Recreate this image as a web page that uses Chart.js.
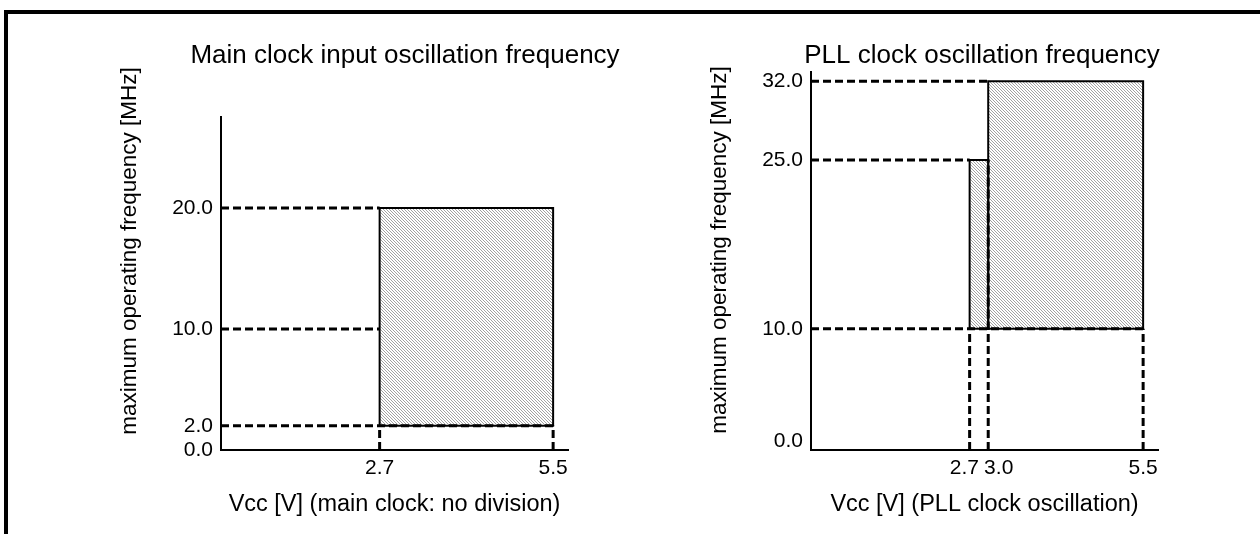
<!DOCTYPE html>
<html>
<head>
<meta charset="utf-8">
<script src="https://cdn.jsdelivr.net/npm/chart.js@4.4.1/dist/chart.umd.min.js"></script>
<style>
  html, body { margin: 0; padding: 0; background: #fff; overflow: hidden; }
  #frame { position: absolute; left: 4px; top: 10px; width: 1300px; height: 600px;
           border-top: 4px solid #000; border-left: 4px solid #000; }
  canvas { position: absolute; top: 0; }
</style>
</head>
<body>
<div id="frame"></div>
<canvas id="mainChart" width="810" height="534" style="left:0"></canvas>
<canvas id="pllChart" width="556" height="534" style="left:704px"></canvas>
<script>
// Main clock input oscillation frequency (no division)
const mainVccTicks = [2.7, 5.5];
const mainFreqTicks = [0, 2, 10, 20];
const mainRegionVcc = [[2.7, 5.5]];
const mainRegionFreq = [[2, 20]];
const mainGuideFreq = [20, 10, 2];
const mainGuideEnd = [2.7, 2.7, 5.5];
const mainDropVcc = [2.7, 5.5];
const mainDropTop = [2, 2];

// PLL clock oscillation frequency
const pllVccTicks = [2.7, 3.0, 5.5];
const pllFreqTicks = [0, 10, 25, 32];
const pllRegionVcc = [[2.7, 3.0], [3.0, 5.5]];
const pllRegionFreq = [[10, 25], [10, 32]];
const pllGuideFreq = [32, 25, 10];
const pllGuideEnd = [3.0, 2.7, 5.5];
const pllDropVcc = [2.7, 3.0, 5.5];
const pllDropTop = [10, 25, 10];

Chart.defaults.font.family = '"Liberation Sans", Arial, sans-serif';
Chart.defaults.color = '#000';

// fine diagonal hatch used for the operating areas
const tile = document.createElement('canvas');
tile.width = 3; tile.height = 3;
const tctx = tile.getContext('2d');
tctx.fillStyle = '#fff';
tctx.fillRect(0, 0, 3, 3);
tctx.fillStyle = '#a2a2a2';
for (let i = 0; i < 3; i++) tctx.fillRect(i, i, 1, 1);
const hatch = tctx.createPattern(tile, 'repeat');

// rotated y axis caption, placed freely (not centred on the axis like in the original)
const sideTitle = {
    id: 'sideTitle',
    afterDraw(chart, args, opts) {
        const ctx = chart.ctx;
        ctx.save();
        ctx.translate(opts.x, opts.y);
        ctx.rotate(-Math.PI / 2);
        ctx.font = opts.font;
        ctx.fillStyle = '#000';
        ctx.textAlign = 'center';
        ctx.textBaseline = 'middle';
        ctx.fillText(opts.text, 0, 0);
        ctx.restore();
    }
};

function buildDatasets(regionVcc, regionFreq, guideFreq, guideEnd, dropVcc, dropTop, xMin, yMin) {
    const ds = [];
    regionVcc.forEach((v, i) => {
        const [x0, x1] = v;
        const [y0, y1] = regionFreq[i];
        ds.push({
            data: [{x: x0, y: y1}, {x: x1, y: y1}],
            fill: {value: y0},
            backgroundColor: hatch,
            borderWidth: 0,
            order: 3
        });
        ds.push({
            data: [{x: x0, y: y0}, {x: x0, y: y1}, {x: x1, y: y1}, {x: x1, y: y0}, {x: x0, y: y0}],
            borderColor: '#000',
            borderWidth: 2,
            fill: false,
            order: 2
        });
    });
    guideFreq.forEach((f, i) => {
        ds.push({
            data: [{x: xMin, y: f}, {x: guideEnd[i], y: f}],
            borderColor: '#000',
            borderWidth: 3,
            borderDash: [8, 4],
            fill: false,
            order: 1
        });
    });
    dropVcc.forEach((v, i) => {
        ds.push({
            data: [{x: v, y: yMin}, {x: v, y: dropTop[i]}],
            borderColor: '#000',
            borderWidth: 3,
            borderDash: [8, 4],
            fill: false,
            order: 1
        });
    });
    return ds;
}

function makeChart(id, o) {
    return new Chart(document.getElementById(id), {
        type: 'line',
        data: {
            datasets: buildDatasets(o.regionVcc, o.regionFreq, o.guideFreq, o.guideEnd,
                                    o.dropVcc, o.dropTop, o.xMin, o.yMin)
        },
        options: {
            responsive: false,
            animation: false,
            elements: { point: { radius: 0, hoverRadius: 0 }, line: { tension: 0 } },
            layout: { padding: 0 },
            scales: {
                x: {
                    type: 'linear',
                    min: o.xMin,
                    max: o.xMax,
                    afterBuildTicks: s => { s.ticks = o.xTicks.map(v => ({value: v})); },
                    afterFit: s => { s.height = o.xHeight; },
                    grid: { display: false, drawTicks: false },
                    border: { display: true, color: '#000', width: 2 },
                    ticks: {
                        autoSkip: false,
                        maxRotation: 0,
                        padding: 6,
                        font: { size: 21 },
                        callback: o.xLabel
                    },
                    title: {
                        display: true,
                        text: o.xTitle,
                        font: { size: 23.5 },
                        padding: { top: 0, bottom: 15 }
                    }
                },
                y: {
                    type: 'linear',
                    min: o.yMin,
                    max: o.yMax,
                    afterBuildTicks: s => { s.ticks = o.yTicks.map(v => ({value: v})); },
                    afterFit: s => { s.width = o.yWidth; },
                    grid: { display: false, drawTicks: false },
                    border: { display: true, color: '#000', width: 2 },
                    ticks: {
                        padding: 8,
                        font: { size: 21 },
                        callback: v => v.toFixed(1)
                    }
                },
                yR: {
                    type: 'linear',
                    position: 'right',
                    min: 0,
                    max: 1,
                    afterFit: s => { s.width = o.rightGap; },
                    grid: { display: false, drawTicks: false },
                    border: { display: false },
                    ticks: { display: false }
                }
            },
            plugins: {
                legend: { display: false },
                tooltip: { enabled: false },
                title: {
                    display: true,
                    text: o.title,
                    font: { size: 26, weight: 'normal' },
                    padding: { top: 40, bottom: o.titleGap }
                },
                sideTitle: {
                    text: 'maximum operating frequency [MHz]',
                    font: '22.5px "Liberation Sans", Arial, sans-serif',
                    x: o.sideX,
                    y: o.sideY
                }
            }
        },
        plugins: [sideTitle]
    });
}

makeChart('mainChart', {
    title: 'Main clock input oscillation frequency',
    xTitle: 'Vcc [V] (main clock: no division)',
    regionVcc: mainRegionVcc, regionFreq: mainRegionFreq,
    guideFreq: mainGuideFreq, guideEnd: mainGuideEnd,
    dropVcc: mainDropVcc, dropTop: mainDropTop,
    xTicks: mainVccTicks, yTicks: mainFreqTicks,
    xLabel: v => v.toFixed(1),
    xMin: 0.14, xMax: 5.74, yMin: 0, yMax: 27.5,
    yWidth: 221, rightGap: 242, xHeight: 84, titleGap: 46,
    sideX: 130, sideY: 251
});

makeChart('pllChart', {
    title: 'PLL clock oscillation frequency',
    xTitle: 'Vcc [V] (PLL clock oscillation)',
    regionVcc: pllRegionVcc, regionFreq: pllRegionFreq,
    guideFreq: pllGuideFreq, guideEnd: pllGuideEnd,
    dropVcc: pllDropVcc, dropTop: pllDropTop,
    xTicks: pllVccTicks, yTicks: pllFreqTicks,
    // 2.7 and 3.0 sit close together, nudge them apart with spaces
    xLabel: v => v === 2.7 ? '2.7\u2002' : v === 3 ? '\u20033.0' : v.toFixed(1),
    xMin: 0.14, xMax: 5.74, yMin: -0.77, yMax: 32.8,
    yWidth: 107, rightGap: 102, xHeight: 84, titleGap: 1,
    sideX: 16, sideY: 250
});
</script>
</body>
</html>
